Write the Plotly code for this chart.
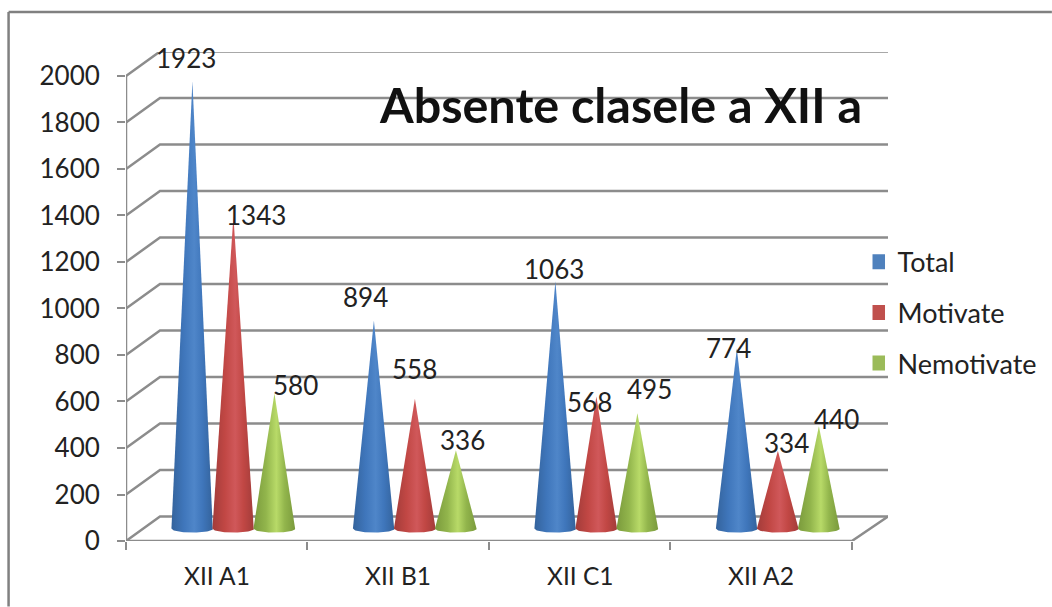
import numpy as np
import plotly.graph_objects as go

categories = ["XII A1", "XII B1", "XII C1", "XII A2"]
total = [1923, 894, 1063, 774]
motivate = [1343, 558, 568, 334]
nemotivate = [580, 336, 495, 440]
y_ticks = [0, 200, 400, 600, 800, 1000, 1200, 1400, 1600, 1800, 2000]

series = [
    ("Total", total, "#4f81bd", ["#34639c", "#3f76bb", "#4f86c9", "#3f76bb", "#34639c"]),
    ("Motivate", motivate, "#c0504d", ["#a23c3a", "#c14744", "#d0585a", "#c14744", "#a23c3a"]),
    ("Nemotivate", nemotivate, "#9bbb59", ["#7a9a3c", "#92b54c", "#b8da68", "#92b54c", "#7a9a3c"]),
]

# layout in pixels
L, R, T, B = 125.5, 888.0, 52.0, 541.5
X_PX = 181.6                 # px per category
Y_PX = (541.5 - 76) / 2000   # px per unit
DX = 34 / X_PX               # 3-D depth offset
DY = 24.5 / Y_PX
x_max = (R - L) / X_PX
y_max = (B - T) / Y_PX
GRID = "#8c8c8c"
TXT = "#222222"
FONT = "Lato"

label_shift = [
    [(-6, 23), (-8, 24), (-1, 12), (-8, 0)],
    [(23, 1), (0, 30), (-7, -6), (9, 8)],
    [(21, 9), (7, 10), (12, 24), (18, 7)],
]

fig = go.Figure()

# wall / floor lines
gx, gy = [], []
for v in y_ticks:
    gx += [0, DX, x_max, None]
    gy += [v, v + DY, v + DY, None]
# floor front and right edges, vertical axis
gx += [0, 4, x_max, None, 0, 0, None]
gy += [0, 0, DY, None, 0, 2000, None]
fig.add_trace(go.Scatter(x=gx, y=gy, mode="lines", line=dict(color=GRID, width=2.5),
                         showlegend=False, hoverinfo="skip", cliponaxis=False))

# cones
base_y = 54
half_w = 21 / X_PX
half_h = 4.2 / Y_PX
offsets = [0.366, 0.592, 0.818]
annotations = []
theta = np.linspace(np.pi, 2 * np.pi, 40)
for s, (name, vals, col, shades) in enumerate(series):
    for c, v in enumerate(vals):
        cx = c + offsets[s]
        xs = [cx] + list(cx + half_w * np.cos(theta)[::-1]) + [cx]
        ys = [v + base_y] + list(base_y + half_h * np.sin(theta)[::-1]) + [v + base_y]
        stops = [0, 0.3, 0.55, 0.75, 1]
        fig.add_trace(go.Scatter(
            x=xs, y=ys, mode="lines", line=dict(width=0, color=col), fill="toself",
            fillgradient=dict(type="horizontal",
                              colorscale=[[a, b] for a, b in zip(stops, shades)]),
            showlegend=False, hoverinfo="skip"))
        dx, dy = label_shift[s][c]
        annotations.append(dict(x=cx, y=v + base_y, text=str(v), showarrow=False,
                                xshift=dx, yshift=dy, xanchor="center", yanchor="middle",
                                font=dict(family=FONT, size=26, color=TXT)))

# legend swatches
for name, vals, col, shades in series:
    fig.add_trace(go.Scatter(x=[None], y=[None], mode="markers", name=name, legendgroup=name,
                             marker=dict(symbol="square", size=15, color=col)))

# title
annotations.append(dict(xref="paper", yref="paper", x=(620 - L) / (R - L), y=(B - 104) / (B - T),
                        text="<b>Absente clasele a XII a</b>", showarrow=False,
                        xanchor="center", yanchor="middle",
                        font=dict(family=FONT, size=48.5, color="#111111")))

frame = [
    dict(type="line", xref="paper", yref="paper", x0=(8 - L) / (R - L), x1=(1052 - L) / (R - L),
         y0=(B - 12) / (B - T), y1=(B - 12) / (B - T), line=dict(color="#808080", width=2.5)),
    dict(type="line", xref="paper", yref="paper", x0=(8 - L) / (R - L), x1=(8 - L) / (R - L),
         y0=(B - 12) / (B - T), y1=(B - 607) / (B - T), line=dict(color="#808080", width=2.5)),
]

fig.update_layout(
    width=1052, height=607, autosize=False,
    margin=dict(l=L, r=1052 - R, t=T, b=607 - B, pad=0, autoexpand=False),
    paper_bgcolor="white", plot_bgcolor="white",
    annotations=annotations, shapes=frame,
    legend=dict(x=(872.5 - L) / (R - L), xanchor="left", y=(B - 238) / (B - T), yanchor="top",
                font=dict(family=FONT, size=27, color=TXT), tracegroupgap=12.5,
                bgcolor="rgba(0,0,0,0)", itemwidth=30, indentation=-15),
    xaxis=dict(range=[0, x_max], tickmode="array",
               tickvals=[0, 1, 2, 3, 4], ticktext=["", "", "", "", ""],
               ticks="outside", ticklen=8, tickwidth=2, tickcolor=GRID,
               showgrid=False, zeroline=False, showline=False),
    yaxis=dict(range=[0, y_max], tickmode="array", tickvals=y_ticks,
               ticks="outside", ticklen=8, tickwidth=2, tickcolor=GRID,
               tickfont=dict(family=FONT, size=26, color=TXT), ticklabelstandoff=12,
               showgrid=False, zeroline=False, showline=False),
)
for i, cat in enumerate(categories):
    fig.add_annotation(x=i + 0.5, y=0, text=cat, showarrow=False, yshift=-34, xanchor="center",
                       yanchor="middle", font=dict(family=FONT, size=24.5, color=TXT))

fig.write_html("out.html", post_script="document.body.style.margin='0';",
               config=dict(displayModeBar=False))
